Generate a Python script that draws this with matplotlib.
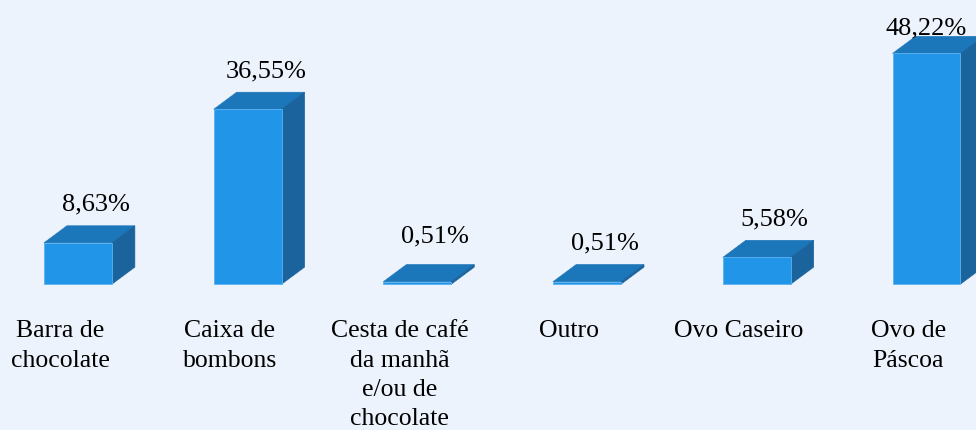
import matplotlib.pyplot as plt
from matplotlib.patches import Polygon

categories = ["Barra de\nchocolate", "Caixa de\nbombons", "Cesta de café\nda manhã\ne/ou de\nchocolate",
              "Outro", "Ovo Caseiro", "Ovo de\nPáscoa"]
values = [8.63, 36.55, 0.51, 0.51, 5.58, 48.22]
labels = ["8,63%", "36,55%", "0,51%", "0,51%", "5,58%", "48,22%"]

bg = "#EDF3FC"
front_c = "#2196E8"
top_c = "#1C76BA"
side_c = "#1A639C"

fig = plt.figure(figsize=(9.76, 4.30), dpi=100, facecolor=bg)
ax = fig.add_axes([0, 0, 1, 1])
ax.set_facecolor(bg)
ax.set_xlim(-0.4596, 5.2917)
ax.set_ylim(-30.5, 59.4)
ax.axis("off")

w = 0.4      # bar width in category units
dx = 0.135   # depth offset (x)
dy = 3.56    # depth offset (y, in %)

for i, v in enumerate(values):
    x0, x1 = i - w / 2, i + w / 2
    ax.add_patch(Polygon([(x0, 0), (x1, 0), (x1, v), (x0, v)], closed=True,
                         fc=front_c, ec="#5AB2F0", lw=0.6, zorder=3))
    ax.add_patch(Polygon([(x0, v), (x1, v), (x1 + dx, v + dy), (x0 + dx, v + dy)], closed=True,
                         fc=top_c, ec=top_c, lw=0.5, zorder=2))
    ax.add_patch(Polygon([(x1, 0), (x1 + dx, dy), (x1 + dx, v + dy), (x1, v)], closed=True,
                         fc=side_c, ec=side_c, lw=0.5, zorder=2))

    lx = i + 0.106 if i < len(values) - 1 else i
    ly = min(v + dy + 4.4, 53.5)
    if i == 2:
        ly += 1.5
    ax.text(lx, ly, labels[i], ha="center", va="center", fontsize=19,
            family="Liberation Serif", color="black")

    ax.text(i - 0.106, -7.6, categories[i], ha="center", va="top", fontsize=18.5,
            family="Liberation Serif", color="black", linespacing=1.42)

fig.savefig("out.png", dpi=100, facecolor=bg)
